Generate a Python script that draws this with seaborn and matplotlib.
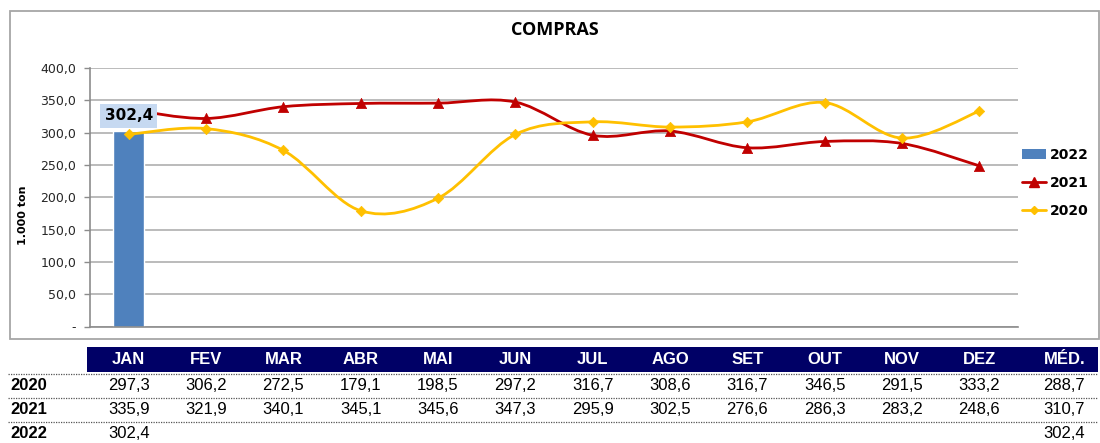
import numpy as np
import pandas as pd
import matplotlib
matplotlib.use("Agg")
import matplotlib.pyplot as plt
import seaborn as sns
from matplotlib.path import Path
from matplotlib.patches import PathPatch, Rectangle, Patch
from matplotlib.lines import Line2D
from matplotlib.transforms import blended_transform_factory

# ---------------- data ----------------
months = ["JAN", "FEV", "MAR", "ABR", "MAI", "JUN", "JUL", "AGO", "SET", "OUT", "NOV", "DEZ"]
v2020 = [297.3, 306.2, 272.5, 179.1, 198.5, 297.2, 316.7, 308.6, 316.7, 346.5, 291.5, 333.2]
v2021 = [335.9, 321.9, 340.1, 345.1, 345.6, 347.3, 295.9, 302.5, 276.6, 286.3, 283.2, 248.6]
v2022 = [302.4]
med_label = "MÉD."
med2020 = 288.7
med2021 = 310.7
med2022 = 302.4
series_names = ["2022", "2021", "2020"]
yticks = [0, 50, 100, 150, 200, 250, 300, 350, 400]
ytick_labels = ["-", "50,0", "100,0", "150,0", "200,0", "250,0", "300,0", "350,0", "400,0"]
title = "COMPRAS"
ylabel = "1.000 ton"

def fmt(v):
    return f"{v:.1f}".replace(".", ",")

# ---------------- style ----------------
sns.set_theme(style="white")
plt.rcParams['font.family'] = ['DejaVu Sans']
plt.rcParams['text.color'] = 'black'

C_BAR = "#4F81BD"
C_2021 = "#C00000"
C_2020 = "#FFC000"
C_GRID = "#B5B5B5"
C_NAVY = "#000066"

W, H = 1100, 443
fig = plt.figure(figsize=(11, 4.43), dpi=100)
fig.patch.set_facecolor("white")

def fx(px):
    return px / W

def fy(py):
    return 1 - py / H

# chart border
fig.add_artist(Rectangle((fx(10), fy(339)), fx(1099) - fx(10), fy(11) - fy(339),
                         transform=fig.transFigure, fill=False, edgecolor="#A6A6A6", lw=1.3))

ax = fig.add_axes([fx(90), fy(326.5), fx(1018) - fx(90), fy(68) - fy(326.5)])

# bars
df_bar = pd.DataFrame({"mes": months[:len(v2022)], "val": v2022})
sns.barplot(data=df_bar, x="mes", y="val", order=months, width=0.4, color=C_BAR,
            saturation=1, ax=ax, zorder=2)

xs = np.arange(len(months))

def smooth_path(x, y):
    pts = np.column_stack([x, y]).astype(float)
    n = len(pts)
    verts = [pts[0]]
    codes = [Path.MOVETO]
    for i in range(n - 1):
        p0 = pts[i - 1] if i > 0 else pts[i]
        p1 = pts[i]
        p2 = pts[i + 1]
        p3 = pts[i + 2] if i + 2 < n else pts[i + 1]
        c1 = p1 + (p2 - p0) / 6.0
        c2 = p2 - (p3 - p1) / 6.0
        verts += [c1, c2, p2]
        codes += [Path.CURVE4] * 3
    return Path(verts, codes)

for vals, col, mk, ms in [(v2021, C_2021, "^", 55), (v2020, C_2020, "D", 28)]:
    ax.add_patch(PathPatch(smooth_path(xs, vals), fill=False, edgecolor=col, lw=2.0, zorder=3))
    sns.scatterplot(x=xs, y=vals, marker=mk, s=ms, color=col, edgecolor=col, linewidth=0.5,
                    ax=ax, zorder=4, legend=False)

# data label on bar
for i, v in enumerate(v2022):
    ax.annotate(fmt(v), xy=(i, v), xytext=(0, 11), textcoords="offset points",
                ha="center", va="center", fontsize=11, fontweight="bold", color="black",
                bbox=dict(boxstyle="square,pad=0.3", facecolor="#C6D9F1", edgecolor="none"),
                zorder=6)

ax.set_xlim(-0.5, len(months) - 0.5)
ax.set_ylim(0, 400)
ax.set_yticks(yticks)
ax.set_yticklabels(ytick_labels, fontsize=9, color="#262626")
ax.set_xticks([])
ax.set_xlabel("")
ax.set_ylabel("")
ax.yaxis.grid(True, color=C_GRID, lw=1.3)
ax.set_axisbelow(True)
for s in ["top", "right"]:
    ax.spines[s].set_visible(False)
for s in ["left", "bottom"]:
    ax.spines[s].set_color("#8C8C8C")
    ax.spines[s].set_linewidth(1.2)
ax.tick_params(axis="y", which="both", left=True, length=4, width=1, color="#8C8C8C", pad=6)

# title & y label
fig.text(fx(555), fy(30), title, ha="center", va="center", fontsize=13, fontweight="bold",
         family=["Open Sans", "DejaVu Sans"], color="black")
fig.text(fx(23), fy(215), ylabel, ha="center", va="center", rotation=90, fontsize=8,
         fontweight="bold", color="black")

# legend
handles = [
    Patch(facecolor=C_BAR, edgecolor="none"),
    Line2D([], [], color=C_2021, lw=2, marker="^", markersize=7),
    Line2D([], [], color=C_2020, lw=2, marker="D", markersize=4.5),
]
leg = fig.legend(handles, series_names, loc="center left", bbox_to_anchor=(fx(1022), fy(183)),
                 frameon=False, prop=dict(weight="bold", size=10), handlelength=1.7,
                 handletextpad=0.3, labelspacing=1.0, borderpad=0, borderaxespad=0)
for t in leg.get_texts():
    t.set_color("black")

# ---------------- table ----------------
tr = blended_transform_factory(ax.transData, fig.transFigure)
med_x = len(months) + 0.1
tfont = ["Liberation Sans", "DejaVu Sans"]
tsize = 12

fig.add_artist(Rectangle((fx(87), fy(372)), fx(1098) - fx(87), fy(347) - fy(372),
                         transform=fig.transFigure, facecolor=C_NAVY, edgecolor="none"))
for i, m in enumerate(months):
    fig.text(i, fy(360), m, transform=tr, ha="center", va="center", color="white",
             fontsize=tsize, fontweight="bold", family=tfont)
fig.text(med_x, fy(360), med_label, transform=tr, ha="center", va="center", color="white",
         fontsize=tsize, fontweight="bold", family=tfont)

rows = [("2020", v2020, med2020, 386), ("2021", v2021, med2021, 409.5), ("2022", v2022, med2022, 434)]
for name, vals, med, ypx in rows:
    fig.text(fx(10), fy(ypx), name, ha="left", va="center", fontsize=tsize, fontweight="bold",
             family=tfont, color="black")
    for i, v in enumerate(vals):
        fig.text(i, fy(ypx), fmt(v), transform=tr, ha="center", va="center", fontsize=tsize,
                 family=tfont, color="black")
    fig.text(med_x, fy(ypx), fmt(med), transform=tr, ha="center", va="center", fontsize=tsize,
             family=tfont, color="black")

for ypx in [373.5, 397.5, 421.5]:
    fig.add_artist(Line2D([fx(8), fx(1098)], [fy(ypx), fy(ypx)], transform=fig.transFigure,
                          color="#555555", lw=0.9, linestyle=(0, (1, 1))))

fig.savefig("out.png", dpi=100, facecolor="white")
